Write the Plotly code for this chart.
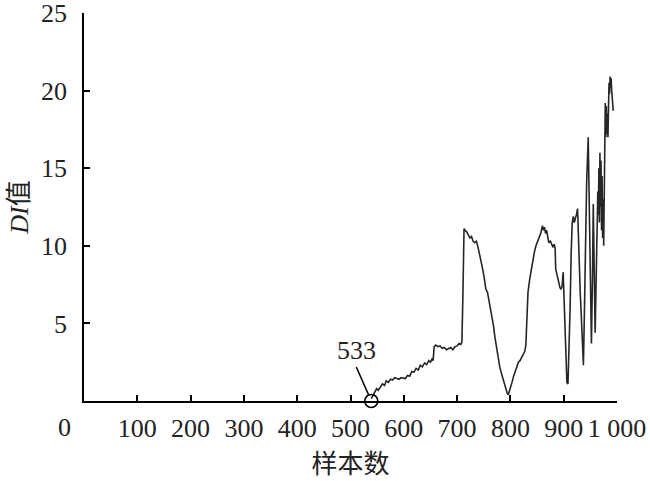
import plotly.graph_objects as go

# sample index (x) and DI value (y)
sample = [539, 543, 546, 549, 552, 556, 560, 564, 567, 571, 575, 579, 583, 587, 591, 595,
          599, 603, 607, 611, 615, 619, 623, 627, 631, 635, 639, 643, 647, 650, 653, 655,
          657, 660, 664, 668, 672, 676, 680, 684, 688, 692, 696, 700, 704, 707, 709, 711,
          713, 715, 718, 721, 724, 727, 730, 733, 736, 739, 742, 745, 748, 751, 754, 757,
          760, 762, 765, 768, 771, 774, 777, 780, 783, 786, 789, 792, 794, 796, 798, 800,
          803, 806, 809, 812, 815, 818, 821, 824, 827, 829, 831, 833, 836, 839, 842, 845,
          848, 851, 854, 857, 860, 862, 864, 866, 868, 870, 872, 875, 878, 880, 882, 884,
          885, 887, 889, 891, 893, 895, 897, 899, 900, 902, 904, 906, 908, 910, 912, 914,
          916, 918, 920, 922, 924, 926, 927, 929, 930, 931, 933, 935, 937, 939, 941, 943,
          946, 948, 950, 952, 954, 955.5, 957, 959, 961, 963, 964, 965, 966, 967, 968, 969,
          970, 971, 972, 973, 974, 975, 976, 977, 978, 979, 980, 981, 982, 983, 984, 985,
          986, 987, 988, 989, 990, 991, 992, 993]
di_value = [0.15, 0.45, 0.6, 0.8, 0.7, 0.95, 1.1, 1.0, 1.3, 1.2, 1.4, 1.35, 1.5, 1.45, 1.4, 1.5,
            1.45, 1.45, 1.65, 1.6, 1.9, 1.85, 2.1, 2.0, 2.3, 2.2, 2.45, 2.35, 2.6, 2.5, 2.7, 2.6,
            3.5, 3.6, 3.5, 3.55, 3.4, 3.45, 3.3, 3.35, 3.45, 3.3, 3.5, 3.55, 3.7, 3.65, 3.8, 7.0,
            11.1, 11.0, 10.9, 10.7, 10.5, 10.6, 10.3, 10.2, 10.3, 9.95, 9.5, 8.9, 8.5, 7.9, 7.2, 7.0,
            6.4, 6.2, 5.6, 4.9, 4.1, 3.4, 2.8, 2.2, 1.8, 1.4, 1.0, 0.7, 0.5, 0.4, 0.6, 0.8,
            1.2, 1.6, 1.9, 2.2, 2.5, 2.6, 2.8, 3.0, 3.2, 3.6, 5.0, 7.0, 7.8, 8.5, 9.1, 9.6,
            10.0, 10.3, 10.5, 10.8, 11.3, 11.0, 11.2, 10.8, 11.0, 10.4, 10.2, 10.3, 10.0, 9.9, 10.1, 9.8,
            8.5, 8.2, 7.8, 7.4, 7.3, 7.2, 7.4, 8.3, 7.1, 5.0, 2.5, 1.2, 1.1, 3.0, 6.0, 9.5,
            11.5, 11.9, 11.5, 11.8, 12.0, 12.4, 11.0, 9.1, 8.5, 7.0, 5.5, 3.5, 2.3, 6.0, 10.0, 14.0,
            17.0, 12.0, 7.0, 3.7, 8.0, 12.7, 9.0, 4.4, 8.0, 11.0, 13.5, 12.0, 15.0, 11.5, 16.0, 12.5,
            15.5, 11.0, 14.5, 10.5, 13.0, 10.0, 14.0, 16.5, 19.2, 17.0, 19.0, 17.2, 18.5, 17.0, 19.5, 20.5,
            19.8, 20.9, 20.2, 20.8, 20.0, 19.5, 18.9, 18.7]

marked_x = [539]
marked_y = [0]
marked_label = "533"

x_ticks = [100, 200, 300, 400, 500, 600, 700, 800, 900, 1000]
x_ticktext = ["100", "200", "300", "400", "500", "600", "700", "800", "900", "1 000"]
y_ticks = [5, 10, 15, 20, 25]

serif = "Liberation Serif, Times New Roman, Noto Sans CJK SC"
cjk = "Noto Sans CJK SC"

fig = go.Figure()
fig.add_trace(go.Scatter(x=sample, y=di_value, mode="lines",
                         line=dict(color="#262626", width=1.6), showlegend=False))
fig.add_trace(go.Scatter(x=marked_x, y=marked_y, mode="markers",
                         marker=dict(symbol="circle-open", size=13,
                                     line=dict(color="black", width=1.6), color="black"),
                         cliponaxis=False, showlegend=False))

fig.add_annotation(x=marked_x[0], y=marked_y[0], text=marked_label, showarrow=True,
                   arrowhead=0, arrowwidth=1.5, arrowcolor="black",
                   ax=-15, ay=-34, standoff=7, yanchor="bottom",
                   font=dict(family=serif, size=26, color="#222"))
fig.add_annotation(x=0, y=0, xref="x", yref="y", text="0", showarrow=False,
                   xanchor="center", yanchor="top", xshift=-20, yshift=-10,
                   font=dict(family=serif, size=26, color="#222"))

fig.update_layout(
    width=650, height=481,
    margin=dict(l=84, r=33, t=13, b=80),
    plot_bgcolor="white", paper_bgcolor="white",
    font=dict(family=serif, size=26, color="#222"),
    xaxis=dict(range=[0, 1000], tickvals=x_ticks, ticktext=x_ticktext, tickangle=0,
               ticks="inside", ticklen=6, tickwidth=1.5, tickcolor="black",
               showline=True, linecolor="black", linewidth=1.5, automargin=False,
               showgrid=False, zeroline=False, ticklabelstandoff=3,
               ticklabeloverflow="allow",
               title=dict(text="样本数", font=dict(family=cjk, size=26, color="#222"),
                          standoff=2)),
    yaxis=dict(range=[0, 25], tickvals=y_ticks, automargin=False,
               ticks="inside", ticklen=6, tickwidth=1.5, tickcolor="black",
               showline=True, linecolor="black", linewidth=1.5,
               showgrid=False, zeroline=False, ticklabelstandoff=10,
               ticklabeloverflow="allow",
               title=dict(text="<i>DI</i>值", font=dict(family=serif, size=26, color="#222"),
                          standoff=5)),
)

fig.write_html("out.html", config={"displayModeBar": False},
               post_script="document.body.style.margin='0';document.body.style.overflow='hidden';")
